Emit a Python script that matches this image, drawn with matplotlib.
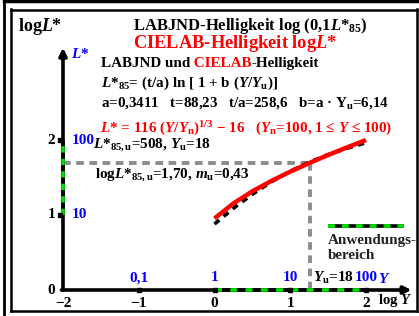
import matplotlib
matplotlib.use("Agg")
import matplotlib.pyplot as plt
from matplotlib.transforms import Affine2D
from matplotlib.lines import Line2D

# values (log Y on x, log L* on y)
log_y = [0.0, 0.25, 0.5, 0.75, 1.0, 1.25, 1.5, 1.75, 2.0]
log_lstar_cielab = [0.954, 1.155, 1.316, 1.454, 1.578, 1.692, 1.800, 1.902, 2.000]
log_lstar_jnd = [0.880, 1.089, 1.277, 1.442, 1.584, 1.704, 1.805, 1.890, 1.964]

log_y_u = 1.255          # log 18
log_lstar_85u = 1.70
range_x = [0.0, 2.0]     # Anwendungsbereich on log Y axis
range_y = [1.0, 2.0]     # Anwendungsbereich on log L* axis

x_ticks = [-2, -1, 0, 1, 2]
x_tick_labels = ["\u22122", "\u22121", "0", "1", "2"]
y_ticks = [0, 1, 2]
y_tick_labels = ["0", "1", "2"]
y_blue_ticks = [-1, 0, 1, 2]
y_blue_labels = ["0,1", "1", "10", "100"]
l_blue_ticks = [1, 2]
l_blue_labels = ["10", "100"]

plt.rcParams["font.family"] = "Liberation Serif"
plt.rcParams["font.weight"] = "bold"
plt.rcParams["mathtext.fontset"] = "custom"
plt.rcParams["mathtext.rm"] = "Liberation Serif:bold"
plt.rcParams["mathtext.bf"] = "Liberation Serif:bold"
plt.rcParams["mathtext.it"] = "Liberation Serif:bold:italic"
plt.rcParams["lines.scale_dashes"] = False

W, H = 419, 316
fig = plt.figure(figsize=(W / 100, H / 100), dpi=100)
ax = fig.add_axes([0, 0, 1, 1])
# pixel 63 -> x=-2, 366 -> x=2 ; pixel 290 -> y=0, 140 -> y=2
sx, sy = 75.75, 75.0
ax.set_xlim(-2 - 63 / sx, -2 + (W - 63) / sx)
ax.set_ylim(-(H - 290) / sy, 290 / sy)
ax.axis("off")

pix = Affine2D().scale(1 / W, -1 / H).translate(0, 1) + fig.transFigure

# frame
for xs, ys, lw in [([4, 4], [0, H], 2.0), ([4, W], [1, 1], 2.5),
                   ([11, 11], [9, 311], 1.8), ([11, 417], [9.5, 9.5], 1.8),
                   ([416.5, 416.5], [9, 311], 1.8), ([11, 417], [310.5, 310.5], 1.8)]:
    fig.add_artist(Line2D(xs, ys, lw=lw, color="black", transform=pix))

# axes with arrows
ax.annotate("", xy=(-2, 3.23), xytext=(-2, 0), arrowprops=dict(
    arrowstyle="-|>", lw=2.6, color="black", mutation_scale=11, shrinkA=0, shrinkB=0))
ax.annotate("", xy=(2.6, 0), xytext=(-2.02, 0), arrowprops=dict(
    arrowstyle="-|>", lw=2.6, color="black", mutation_scale=11, shrinkA=0, shrinkB=0))

# application range (green/black dashed)
ax.plot(range_x, [0, 0], color="black", lw=2.6, solid_capstyle="butt", zorder=3)
ax.plot(range_x, [0, 0], color="#00e000", lw=2.6, dashes=(5, 6), dash_capstyle="butt", zorder=4)
ax.plot([-2, -2], range_y, color="black", lw=2.6, solid_capstyle="butt", zorder=3)
ax.plot([-2, -2], range_y, color="#00e000", lw=2.6, dashes=(4.5, 4.5), dash_capstyle="butt", zorder=4)

# ticks
ax.plot(x_ticks[1:], [0] * 4, ls="none", marker="s", ms=3.2, color="black", zorder=5)
ax.plot([-2.04] * 2, [1, 2], ls="none", marker="s", ms=3.2, color="black", zorder=5)

# guide lines at Y_u
ax.plot([-2, log_y_u], [log_lstar_85u, log_lstar_85u], color="#8c8c8c", lw=2.8,
        dashes=(5.5, 4), dash_capstyle="butt", zorder=2)
ax.plot([log_y_u, log_y_u], [log_lstar_85u, 0], color="#8c8c8c", lw=2.8,
        dashes=(5.5, 4), dash_capstyle="butt", zorder=2)

# curves
ax.plot(log_y, log_lstar_jnd, color="black", lw=2.6, dashes=(4.5, 4),
        dash_capstyle="butt", zorder=6)
ax.plot(log_y, log_lstar_cielab, color="#ff0000", lw=3.2, solid_capstyle="butt", zorder=7)

# legend sample
ax.plot([1.5, 2.5], [0.853, 0.853], color="black", lw=2.6, solid_capstyle="butt")
ax.plot([1.5, 2.5], [0.853, 0.853], color="#00e000", lw=2.6, dashes=(5, 5), dash_capstyle="butt")
ax.text(1.5, 0.665, "Anwendungs-", fontsize=10.9, va="center", ha="left", color="#222222")
ax.text(1.5, 0.465, "bereich", fontsize=10.9, va="center", ha="left", color="#222222")

# tick labels
for v, s in zip(x_ticks, x_tick_labels):
    ax.text(v, -0.175, s, fontsize=11, ha="center", va="center")
for v, s in zip(y_ticks, y_tick_labels):
    ax.text(-2.105, v, s, fontsize=11, ha="right", va="center")
for v, s in zip(y_blue_ticks, y_blue_labels):
    ax.text(v, 0.165, s, fontsize=11, ha="center", va="center", color="#0000ff")
for v, s in zip(l_blue_ticks, l_blue_labels):
    ax.text(-1.88, v, s, fontsize=11, ha="left", va="center", color="#0000ff")
ax.text(2.24, 0.15, "$Y$", fontsize=11, ha="center", va="center", color="#0000ff")
ax.text(1.575, 0.165, "$Y_{\\mathrm{u}}$=18", fontsize=11, ha="center", va="center")
ax.text(2.607, -0.14, "log $Y$", fontsize=10.5, ha="right", va="center")
ax.text(-1.9, 3.15, "$L$*", fontsize=11, ha="left", va="center", color="#0000ff")

renderer = fig.canvas.get_renderer()


def pieces(x, y, parts, size):
    for s, c in parts:
        t = fig.text(x, y, s, fontsize=size, color=c, transform=pix, va="baseline")
        x += t.get_window_extent(renderer).width


pieces(18, 31, [("log$L$*", "black")], 13)
pieces(133, 29.5, [("LABJND-Helligkeit log (0,1$L$*$_{85}$)", "black")], 12)
pieces(133, 48, [("CIELAB-Helligkeit log$L$*", "#ff0000")], 13.3)
pieces(101, 67, [("LABJND und", "black"), (" CIELAB", "#ff0000"), ("-Helligkeit", "black")], 10.9)
pieces(101, 87, [("$L$*$_{85}$= (t/a) ln [ 1 + b ($Y$/$Y_{\\mathrm{u}}$)]", "black")], 10.9)
pieces(101, 107, [("a=0,3411   t=88,23   t/a=258,6   b=a \u00b7 Y$_{\\mathrm{u}}$=6,14", "black")], 10.8)
pieces(100, 133, [("$L$* = 116 ($Y$/$Y_{\\mathrm{n}}$)$^{1/3}$ \u2212 16   ($Y_{\\mathrm{n}}$=100, 1 \u2264 $Y$ \u2264 100)",
                   "#ff0000")], 10.9)
pieces(93, 148, [("$L$*$_{85,\\mathrm{u}}$=508, $Y_{\\mathrm{u}}$=18", "black")], 10.9)
pieces(95, 178, [("log$L$*$_{85,\\mathrm{u}}$=1,70, $m_{\\mathrm{u}}$=0,43", "black")], 10.9)

fig.savefig("out.png", dpi=100)
